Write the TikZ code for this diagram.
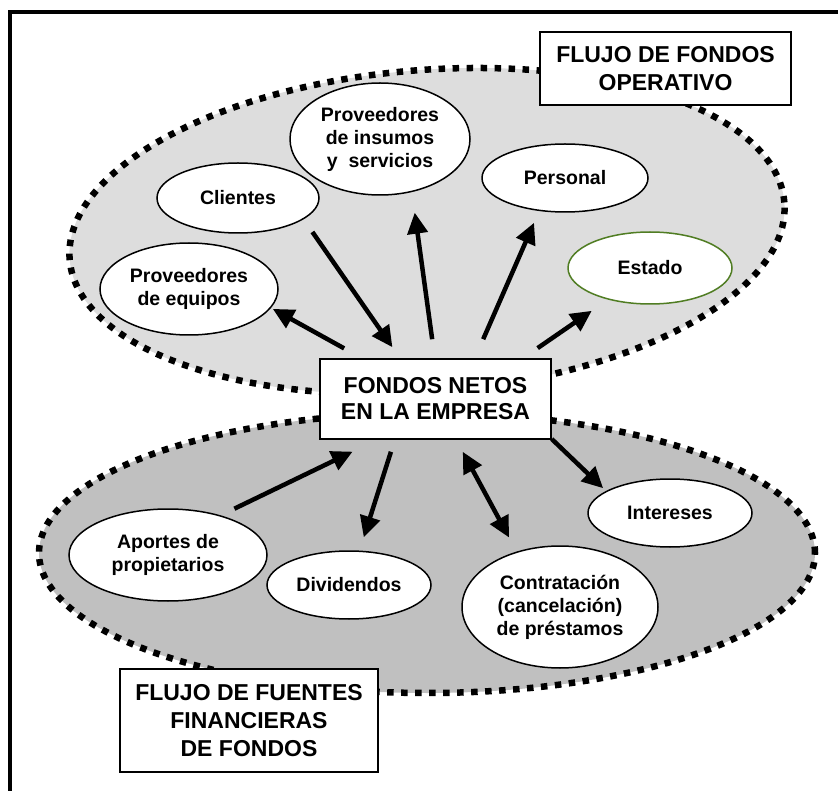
\documentclass[tikz,border=0pt]{standalone}
\usepackage{fontspec}
\setmainfont{Liberation Sans}
\usetikzlibrary{arrows.meta,calc,positioning}
\usetikzlibrary{shapes.geometric}
\definecolor{zoneop}{RGB}{221,221,221}
\definecolor{zonefin}{RGB}{192,192,192}
\definecolor{estadogreen}{RGB}{80,125,35}

\begin{document}
\begin{tikzpicture}[x=1pt,y=-1pt,
every node/.style={ellipse,draw,fill=white,line width=1.5pt,inner sep=0pt,align=center,
font=\fontsize{19.5}{23}\selectfont\bfseries},
zone/.style={line width=6.5pt,dash pattern=on 6.5pt off 7.5pt},
titlebox/.style={rectangle,font=\fontsize{23}{28}\selectfont\bfseries},
flow/.style={line width=4.5pt,-{Triangle[length=21pt,width=20pt]}},
twoway/.style={{Triangle[length=21pt,width=20pt]}-{Triangle[length=21pt,width=20pt]}}]
\useasboundingbox (0,0) rectangle (838,791);
\draw[line width=4pt] (10,800) |- (850,12);

\node[zone,fill=zoneop,minimum width=717pt,minimum height=322pt,rotate=4.56] (Z1) at (427,231) {};
\node[zone,fill=zonefin,minimum width=776pt,minimum height=280pt] (Z2) at (427,553) {};

\node[minimum width=178pt,minimum height=92pt] (O1) at (189,289) {Proveedores\\de equipos};
\node[minimum width=162pt,minimum height=70pt] (O2) at (238,198) {Clientes};
\node[minimum width=180pt,minimum height=112pt] (O3) at (380,139) {Proveedores\\de insumos\\y\ \ servicios};
\node[minimum width=166pt,minimum height=68pt] (O4) at (565,178) {Personal};
\node[draw=estadogreen,minimum width=164pt,minimum height=72pt] (O5) at (650,268) {Estado};

\node[minimum width=198pt,minimum height=92pt] (F1) at (168,555) {Aportes de\\propietarios};
\node[minimum width=164pt,minimum height=68pt] (F2) at (349,585) {Dividendos};
\node[minimum width=196pt,minimum height=122pt] (F3) at (560,607) {Contratación\\(cancelación)\\de préstamos};
\node[minimum width=164pt,minimum height=68pt] (F4) at (670,513) {Intereses};

\node[titlebox,font=\fontsize{23}{26}\selectfont\bfseries,minimum width=231pt,minimum height=80pt] (N) at (435.5,399) {FONDOS NETOS\\EN LA EMPRESA};
\node[titlebox,minimum width=251pt,minimum height=73pt] (L1) at (665.5,68.5) {FLUJO DE FONDOS\\OPERATIVO};
\node[titlebox,minimum width=258pt,minimum height=103pt] (L2) at (249,720.5) {FLUJO DE FUENTES\\FINANCIERAS\\DE FONDOS};

\draw[flow,shorten <=20.4pt,shorten >=2pt] (N.151.8)--(O1.-13.1);
\draw[flow,shorten <=15.4pt,shorten >=13.4pt] (O2.-18.4)--(N.131.8);
\draw[flow,shorten <=19.2pt,shorten >=20.7pt] (N.91.1)--(O3.-59.4);
\draw[flow,shorten <=20.8pt,shorten >=12.8pt] (N.46.4)--(O4.-128.6);
\draw[flow,shorten <=17.9pt,shorten >=19.7pt] (N.25.6)--(O5.-143.3);

\draw[flow,shorten <=15.2pt,shorten >=27.4pt] (F1.37.5)--(N.-145.8);
\draw[flow,shorten <=12.6pt,shorten >=13.9pt] (N.-135.4)--(F2.73.9);
\draw[flow,twoway,shorten <=13.7pt,shorten >=15.9pt] (N.-63.5)--(F3.128.1);
\draw[flow,shorten >=4pt] (N.-19.6)--(F4.161.6);

\end{tikzpicture}
\end{document}
